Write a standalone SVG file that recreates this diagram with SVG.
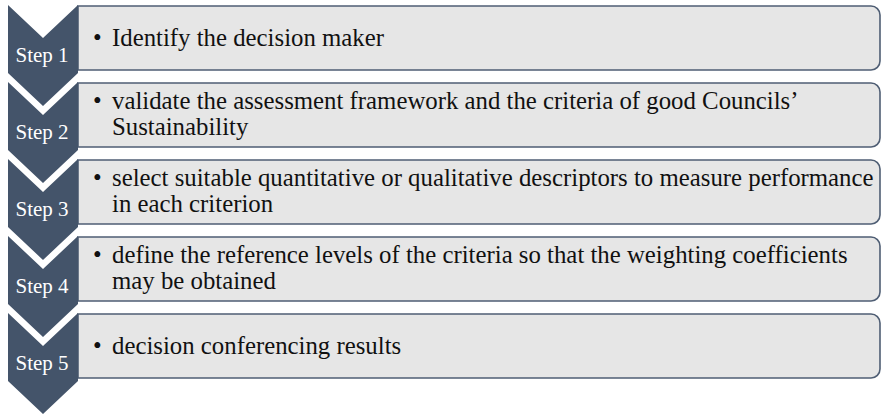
<svg xmlns="http://www.w3.org/2000/svg" width="882" height="415" viewBox="0 0 882 415">
  <style>
    .chev { fill: #44546a; }
    .box { fill: #e6e6e6; stroke: #4f5e74; stroke-width: 1.6; }
    .lbl { font-family: "Liberation Serif", "Times New Roman", serif; font-size: 21px; fill: #ffffff; text-anchor: middle; }
    .txt { font-family: "Liberation Serif", "Times New Roman", serif; font-size: 24.8px; fill: #111111; }
  </style>
  <rect width="882" height="415" fill="#ffffff"/>

  <!-- Step 1 -->
  <g id="step1">
    <path class="box" d="M78,6 H871 A9,9 0 0 1 880,15 V61 A9,9 0 0 1 871,70 H78 Z"/>
    <path class="chev" d="M8,5 L43,38 L78,5 L78,73 L43,106 L8,73 Z"/>
    <text class="lbl" x="42" y="62">Step 1</text>
    <text class="txt" x="93" y="46">•</text>
    <text class="txt" x="112" y="46">Identify the decision maker</text>
  </g>

  <!-- Step 2 -->
  <g id="step2">
    <path class="box" d="M78,83 H871 A9,9 0 0 1 880,92 V138 A9,9 0 0 1 871,147 H78 Z"/>
    <path class="chev" d="M8,82 L43,115 L78,82 L78,150 L43,183 L8,150 Z"/>
    <text class="lbl" x="42" y="139">Step 2</text>
    <text class="txt" x="93" y="109">•</text>
    <text class="txt" x="112" y="109">validate the assessment framework and the criteria of good Councils’</text>
    <text class="txt" x="112" y="135">Sustainability</text>
  </g>

  <!-- Step 3 -->
  <g id="step3">
    <path class="box" d="M78,160 H871 A9,9 0 0 1 880,169 V215 A9,9 0 0 1 871,224 H78 Z"/>
    <path class="chev" d="M8,159 L43,192 L78,159 L78,227 L43,260 L8,227 Z"/>
    <text class="lbl" x="42" y="216">Step 3</text>
    <text class="txt" x="93" y="186">•</text>
    <text class="txt" x="112" y="186">select suitable quantitative or qualitative descriptors to measure performance</text>
    <text class="txt" x="112" y="212">in each criterion</text>
  </g>

  <!-- Step 4 -->
  <g id="step4">
    <path class="box" d="M78,237 H871 A9,9 0 0 1 880,246 V292 A9,9 0 0 1 871,301 H78 Z"/>
    <path class="chev" d="M8,236 L43,269 L78,236 L78,304 L43,337 L8,304 Z"/>
    <text class="lbl" x="42" y="293">Step 4</text>
    <text class="txt" x="93" y="263">•</text>
    <text class="txt" x="112" y="263">define the reference levels of the criteria so that the weighting coefficients</text>
    <text class="txt" x="112" y="289">may be obtained</text>
  </g>

  <!-- Step 5 -->
  <g id="step5">
    <path class="box" d="M78,314 H871 A9,9 0 0 1 880,323 V369 A9,9 0 0 1 871,378 H78 Z"/>
    <path class="chev" d="M8,313 L43,346 L78,313 L78,381 L43,414 L8,381 Z"/>
    <text class="lbl" x="42" y="370">Step 5</text>
    <text class="txt" x="93" y="354">•</text>
    <text class="txt" x="112" y="354">decision conferencing results</text>
  </g>
</svg>
